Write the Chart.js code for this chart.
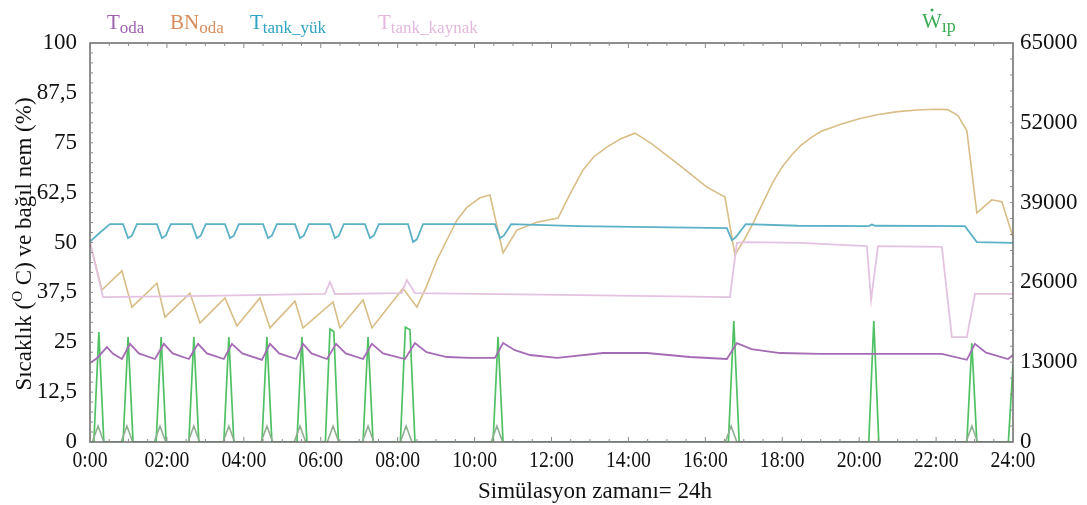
<!DOCTYPE html>
<html>
<head>
<meta charset="utf-8">
<script src="https://cdn.jsdelivr.net/npm/chart.js@4.4.1/dist/chart.umd.min.js"></script>
<style>
  html, body { margin: 0; padding: 0; background: #fff; }
  #wrap { width: 1087px; height: 505px; }
</style>
</head>
<body>
<div id="wrap"><canvas id="c" width="1087" height="505"></canvas></div>
<script>
// ---- time axis (hours) ----
const xTickLabels = ['0:00', '02:00', '04:00', '06:00', '08:00', '10:00', '12:00',
                     '14:00', '16:00', '18:00', '20:00', '22:00', '24:00'];
const yLeftTicks = [0, 12.5, 25, 37.5, 50, 62.5, 75, 87.5, 100];
const yRightTicks = [0, 13000, 26000, 39000, 52000, 65000];

// ---- room temperature T_oda (°C) ----
const odaHours = [0, 0.18, 0.44, 0.6, 0.83, 1.04, 1.27, 1.69, 1.92, 2.15, 2.57, 2.81, 3.04,
  3.48, 3.69, 3.96, 4.47, 4.68, 4.92, 5.36, 5.54, 5.76, 6.16, 6.40, 6.65, 7.10, 7.33, 7.62,
  8.19, 8.45, 8.75, 9.28, 9.88, 10.53, 10.74, 11.05, 11.44, 12.14, 13.34, 14.48, 15.6,
  16.56, 16.82, 17.2, 17.94, 18.98, 22.15, 22.8, 23.01, 23.3, 23.87, 24];
const odaTemp = [19.8, 21.0, 23.8, 22.1, 20.8, 24.6, 22.2, 20.8, 24.6, 22.2, 20.8, 24.6, 22.2,
  20.8, 24.6, 22.2, 20.6, 24.6, 22.2, 20.8, 24.6, 22.2, 20.8, 24.6, 22.2, 20.8, 24.6, 22.2,
  20.8, 24.8, 22.5, 21.3, 21.1, 21.1, 24.8, 23.0, 21.8, 21.1, 22.3, 22.3, 21.3,
  20.8, 24.8, 23.3, 22.3, 22.1, 22.1, 20.6, 24.6, 22.4, 20.8, 21.8];

// ---- room relative humidity BN_oda (%) ----
const bnHours = [0, 0.31, 0.83, 1.09, 1.74, 1.95, 2.6, 2.86, 3.51, 3.82, 4.42, 4.68, 5.33, 5.54,
  6.32, 6.5, 7.1, 7.33, 8.14, 8.5, 8.75, 9.02, 9.3, 9.54, 9.8, 10.14, 10.4, 10.74, 11.1, 11.62,
  12.17, 12.5, 12.82, 13.1, 13.44, 13.8, 14.17, 14.6, 15.26, 15.7, 16.04, 16.3, 16.51, 16.77,
  17.0, 17.25, 17.5, 17.75, 18.0, 18.25, 18.5, 18.75, 19.0, 19.5, 20.0, 20.5, 21.0, 21.5,
  22.0, 22.3, 22.57, 22.8, 23.06, 23.45, 23.71, 24];
const bnHumidity = [50, 38.1, 42.9, 33.8, 39.8, 31.3, 37.3, 29.8, 36.1, 29.1, 36.1, 28.6, 35.3, 28.6,
  35.1, 28.6, 35.6, 28.6, 38.5, 33.8, 39.0, 45.6, 51.0, 55.6, 58.8, 61.2, 61.9, 47.4, 53.1, 55.1,
  56.1, 62.5, 68.2, 71.5, 73.9, 76.0, 77.4, 74.8, 69.9, 66.5, 63.9, 62.5, 61.4, 46.9,
  50.5, 55.0, 60.0, 65.0, 69.0, 72.0, 74.5, 76.3, 77.8, 79.6, 81.0, 82.1, 82.8, 83.2,
  83.4, 83.3, 81.8, 78.0, 57.4, 60.7, 60.2, 51.4];

// ---- load-side tank temperature T_tank_yük (°C) ----
const yukHours = [0, 0.26, 0.52,
  0.86, 0.99, 1.09, 1.22,
  1.74, 1.87, 1.97, 2.10,
  2.65, 2.78, 2.88, 3.01,
  3.51, 3.64, 3.74, 3.87,
  4.50, 4.63, 4.73, 4.86,
  5.33, 5.46, 5.56, 5.69,
  6.24, 6.37, 6.47, 6.60,
  7.15, 7.28, 7.38, 7.51,
  8.27, 8.40, 8.50, 8.66,
  10.53, 10.66, 10.76, 10.95,
  12.7, 16.56, 16.69, 16.79, 17.05,
  18.4, 20.25, 20.33, 20.42, 22.75, 23.06, 24];
const yukTemp = [50.2, 52.5, 54.6,
  54.6, 51.1, 51.7, 54.6,
  54.6, 51.1, 51.7, 54.6,
  54.6, 51.1, 51.7, 54.6,
  54.6, 51.1, 51.7, 54.6,
  54.6, 51.1, 51.7, 54.6,
  54.6, 51.1, 51.7, 54.6,
  54.6, 51.1, 51.7, 54.6,
  54.6, 51.1, 51.7, 54.6,
  54.6, 50.1, 50.8, 54.6,
  54.6, 51.1, 51.7, 54.6,
  54.1, 53.6, 50.6, 51.3, 54.6,
  54.2, 54.1, 54.5, 54.2, 54.1, 50.1, 49.9];

// ---- source-side tank temperature T_tank_kaynak (°C) ----
const kaynakHours = [0, 0.34, 3.0, 6.11, 6.24, 6.37, 8.10, 8.24, 8.45, 12.74, 16.64, 16.82,
  17.08, 18.46, 20.2, 20.31, 20.49, 22.15, 22.41, 22.8, 23.01, 24];
const kaynakTemp = [50, 36.3, 36.6, 37.1, 40.1, 37.1, 37.3, 40.6, 37.3, 36.8, 36.3, 49.9,
  50.1, 49.9, 49.1, 35.6, 49.1, 48.9, 26.3, 26.3, 37.1, 37.1];

// ---- heat pump power W_ıp (W), right axis ----
const wHours = [0, 0.10, 0.23, 0.36, 0.86, 0.99, 1.12, 1.72, 1.85, 1.98, 2.57, 2.70, 2.83,
  3.48, 3.61, 3.74, 4.47, 4.60, 4.73, 5.38, 5.51, 5.64, 6.12, 6.24, 6.34, 6.46,
  7.10, 7.23, 7.36, 8.07, 8.20, 8.32, 8.45, 10.48, 10.61, 10.74, 16.60, 16.74, 16.88,
  20.25, 20.38, 20.51, 22.80, 22.93, 23.06, 23.88, 24];
const wPower = [0, 0, 17900, 0, 0, 17100, 0, 0, 17100, 0, 0, 17100, 0,
  0, 17100, 0, 0, 17100, 0, 0, 17100, 0, 0, 18400, 18000, 0,
  0, 17100, 0, 0, 18700, 18300, 0, 0, 17100, 0, 0, 19700, 0,
  0, 19700, 0, 0, 16100, 0, 0, 12500];

// ---- small auxiliary power pulses (W), right axis ----
const auxHours = [0, 0.06, 0.21, 0.36, 0.81, 0.96, 1.11, 1.67, 1.82, 1.97, 2.55, 2.70, 2.85,
  3.46, 3.61, 3.76, 4.45, 4.60, 4.75, 5.31, 5.46, 5.61, 6.17, 6.32, 6.47, 7.08, 7.23, 7.38,
  8.07, 8.22, 8.37, 10.43, 10.58, 10.73, 16.52, 16.67, 16.82, 22.78, 22.93, 23.08, 24];
const auxPower = [0, 0, 2600, 0, 0, 2600, 0, 0, 2600, 0, 0, 2600, 0,
  0, 2600, 0, 0, 2600, 0, 0, 2600, 0, 0, 2600, 0, 0, 2600, 0,
  0, 2600, 0, 0, 2600, 0, 0, 2600, 0, 0, 2600, 0, 0];

function pairs(xs, ys) { return xs.map((x, i) => ({ x: x, y: ys[i] })); }

const SERIF = '"Liberation Serif", "DejaVu Serif", serif';

function lineSet(label, xs, ys, color, axis, width) {
  return {
    label: label, data: pairs(xs, ys), yAxisID: axis,
    borderColor: color, backgroundColor: color, borderWidth: width,
    pointRadius: 0, tension: 0, fill: false
  };
}

// text with a lowered subscript part, returns end x
function subText(ctx, x, y, main, sub, color, mainSize, subSize) {
  ctx.fillStyle = color;
  ctx.font = mainSize + 'px ' + SERIF;
  ctx.fillText(main, x, y);
  const w1 = ctx.measureText(main).width;
  ctx.font = subSize + 'px ' + SERIF;
  ctx.fillText(sub, x + w1, y + 4);
  return x + w1 + ctx.measureText(sub).width;
}

const decorPlugin = {
  id: 'decor',
  afterDraw(chart) {
    const ctx = chart.ctx;
    const a = chart.chartArea;
    const xs = chart.scales.x, yl = chart.scales.y, yr = chart.scales.y2;
    ctx.save();
    // frame
    ctx.strokeStyle = '#6a6a6a';
    ctx.lineWidth = 1.5;
    ctx.strokeRect(a.left, a.top, a.right - a.left, a.bottom - a.top);
    // minor ticks, pointing inward
    ctx.lineWidth = 1;
    ctx.strokeStyle = '#8a8a8a';
    ctx.beginPath();
    for (let h = 0; h <= 24.001; h += 0.5) {
      const px = xs.getPixelForValue(h);
      const len = (Math.abs(h % 2) < 0.01) ? 5 : 3;
      ctx.moveTo(px, a.bottom); ctx.lineTo(px, a.bottom - len);
      ctx.moveTo(px, a.top); ctx.lineTo(px, a.top + len);
    }
    for (let v = 0; v <= 100.001; v += 2.5) {
      const py = yl.getPixelForValue(v);
      ctx.moveTo(a.left, py); ctx.lineTo(a.left + 3, py);
    }
    for (let v = 0; v <= 65000.1; v += 2600) {
      const py = yr.getPixelForValue(v);
      ctx.moveTo(a.right, py); ctx.lineTo(a.right - 3, py);
    }
    ctx.stroke();

    // time labels (narrow serif)
    ctx.fillStyle = '#111';
    ctx.font = '24px ' + SERIF;
    ctx.textAlign = 'center';
    ctx.textBaseline = 'alphabetic';
    xTickLabels.forEach((lab, i) => {
      const px = xs.getPixelForValue(i * 2);
      ctx.save();
      ctx.translate(px, 467);
      ctx.scale(0.82, 1);
      ctx.fillText(lab, 0, 0);
      ctx.restore();
    });

    ctx.textAlign = 'left';
    // series legend
    subText(ctx, 107, 29, 'T', 'oda', '#a060b0', 21, 17);
    subText(ctx, 170, 29, 'BN', 'oda', '#d88d5c', 21, 17);
    subText(ctx, 250, 29, 'T', 'tank_yük', '#2fa4c4', 21, 17);
    subText(ctx, 378, 29, 'T', 'tank_kaynak', '#e2b8dc', 21, 17);
    subText(ctx, 922, 28, 'W', 'ıp', '#3aaa55', 21, 18);
    ctx.fillStyle = '#3aaa55';
    ctx.beginPath();
    ctx.arc(932, 10, 1.5, 0, Math.PI * 2);
    ctx.fill();

    // x axis title
    ctx.fillStyle = '#111';
    ctx.font = '23px ' + SERIF;
    ctx.textAlign = 'center';
    ctx.fillText('Simülasyon zamanı= 24h', 595, 498);

    // y axis title (rotated, with raised degree letter)
    ctx.translate(24, 244);
    ctx.rotate(-Math.PI / 2);
    const partA = 'Sıcaklık (', partSup = 'O', partB = ' C) ve bağıl nem (%)';
    ctx.font = '23px ' + SERIF;
    const wa = ctx.measureText(partA).width, wb = ctx.measureText(partB).width;
    ctx.font = '15px ' + SERIF;
    const ws = ctx.measureText(partSup).width;
    const sx = -(wa + ws + wb) / 2;
    ctx.textAlign = 'left';
    ctx.font = '23px ' + SERIF;
    ctx.fillText(partA, sx, 7);
    ctx.font = '15px ' + SERIF;
    ctx.fillText(partSup, sx + wa, -2);
    ctx.font = '23px ' + SERIF;
    ctx.fillText(partB, sx + wa + ws, 7);
    ctx.restore();
  }
};

new Chart(document.getElementById('c'), {
  type: 'line',
  data: {
    datasets: [
      lineSet('T_tank_kaynak', kaynakHours, kaynakTemp, '#e4c2e1', 'y', 1.8),
      lineSet('T_tank_yük', yukHours, yukTemp, '#5cb1c6', 'y', 1.8),
      lineSet('BN_oda', bnHours, bnHumidity, '#d9bd86', 'y', 1.6),
      lineSet('T_oda', odaHours, odaTemp, '#a56bb5', 'y', 1.8),
      lineSet('aux', auxHours, auxPower, '#8fae90', 'y2', 1.6),
      lineSet('W_ıp', wHours, wPower, '#4fc163', 'y2', 1.7)
    ]
  },
  options: {
    responsive: false,
    devicePixelRatio: 1,
    animation: false,
    layout: { padding: { top: 43, left: 0, right: 0, bottom: 0 } },
    plugins: { legend: { display: false }, tooltip: { enabled: false } },
    scales: {
      x: {
        type: 'linear', min: 0, max: 24,
        afterBuildTicks: s => { s.ticks = xTickLabels.map((_, i) => ({ value: i * 2 })); },
        afterFit: s => { s.height = 63; },
        ticks: { display: false },
        grid: { display: false, drawTicks: false },
        border: { display: false }
      },
      y: {
        type: 'linear', position: 'left', min: 0, max: 100,
        afterBuildTicks: s => { s.ticks = yLeftTicks.map(v => ({ value: v })); },
        afterFit: s => { s.width = 90; },
        ticks: {
          padding: 13, color: '#111',
          font: { family: SERIF, size: 23 },
          callback: v => String(v).replace('.', ',')
        },
        grid: { display: false, drawTicks: false },
        border: { display: false }
      },
      y2: {
        type: 'linear', position: 'right', min: 0, max: 65000,
        afterBuildTicks: s => { s.ticks = yRightTicks.map(v => ({ value: v })); },
        afterFit: s => { s.width = 74; },
        ticks: {
          padding: 7, color: '#111',
          font: { family: SERIF, size: 23 },
          callback: v => String(v)
        },
        grid: { display: false, drawTicks: false },
        border: { display: false }
      }
    }
  },
  plugins: [decorPlugin]
});
</script>
</body>
</html>
